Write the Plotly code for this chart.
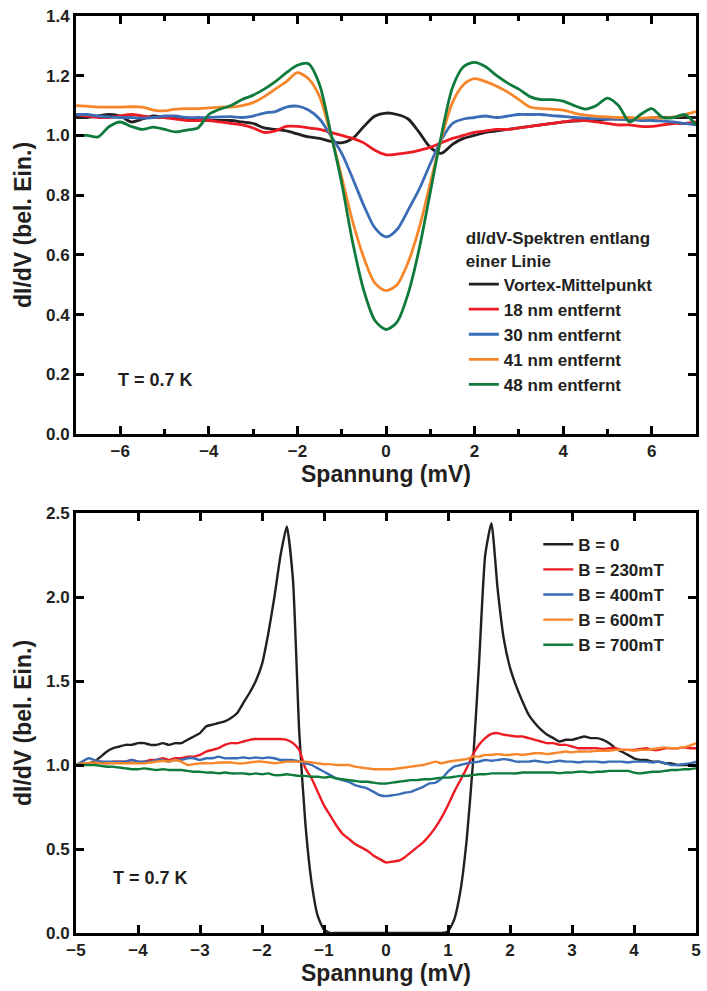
import plotly.graph_objects as go

# ---------------- top panel data ----------------
V_TOP = [-7, -6.75, -6.5, -6.25, -6, -5.75, -5.5, -5.25, -5, -4.75, -4.5, -4.25, -4, -3.75, -3.5, -3.25,
         -3, -2.75, -2.5, -2.25, -2, -1.75, -1.5, -1.25, -1, -0.75, -0.5, -0.25, 0, 0.25, 0.5, 0.75,
         1, 1.25, 1.5, 1.75, 2, 2.25, 2.5, 2.75, 3, 3.25, 3.5, 3.75, 4, 4.25, 4.5, 4.75, 5, 5.25,
         5.5, 5.75, 6, 6.25, 6.5, 6.75, 7]

vortex = [1.06, 1.06, 1.065, 1.07, 1.065, 1.045, 1.055, 1.065, 1.06, 1.058, 1.055, 1.052, 1.05, 1.05, 1.05, 1.045,
          1.04, 1.025, 1.02, 1.015, 1.005, 0.995, 0.99, 0.98, 0.975, 0.99, 1.03, 1.065, 1.075, 1.07, 1.055, 1.01,
          0.96, 0.94, 0.97, 0.99, 1.0, 1.01, 1.015, 1.02, 1.025, 1.03, 1.035, 1.04, 1.045, 1.048, 1.05, 1.052, 1.055, 1.055,
          1.055, 1.055, 1.058, 1.06, 1.06, 1.06, 1.06]

nm18 = [1.07, 1.065, 1.06, 1.06, 1.065, 1.07, 1.065, 1.06, 1.06, 1.055, 1.05, 1.05, 1.05, 1.045, 1.04, 1.035,
        1.025, 1.01, 1.015, 1.03, 1.03, 1.025, 1.02, 1.01, 1.0, 0.99, 0.975, 0.95, 0.935, 0.937, 0.942, 0.95,
        0.96, 0.975, 0.99, 1.0, 1.01, 1.015, 1.02, 1.02, 1.025, 1.03, 1.035, 1.04, 1.045, 1.05, 1.05, 1.045, 1.04, 1.035,
        1.035, 1.03, 1.03, 1.035, 1.04, 1.04, 1.045]

nm30 = [1.07, 1.07, 1.065, 1.062, 1.06, 1.06, 1.058, 1.06, 1.065, 1.065, 1.06, 1.06, 1.06, 1.062, 1.063, 1.06,
        1.065, 1.075, 1.08, 1.095, 1.098, 1.085, 1.055, 1.0, 0.94, 0.855, 0.765, 0.69, 0.66, 0.685, 0.75, 0.82,
        0.905, 0.985, 1.04, 1.055, 1.06, 1.065, 1.06, 1.065, 1.07, 1.07, 1.07, 1.066, 1.064, 1.06, 1.058, 1.056, 1.055, 1.055,
        1.053, 1.05, 1.05, 1.048, 1.045, 1.04, 1.035]

nm41 = [1.10, 1.098, 1.095, 1.095, 1.095, 1.096, 1.095, 1.085, 1.082, 1.088, 1.09, 1.09, 1.092, 1.095, 1.095, 1.10,
        1.11, 1.13, 1.155, 1.18, 1.21, 1.19, 1.13, 1.005, 0.86, 0.71, 0.59, 0.505, 0.48, 0.50, 0.575, 0.69,
        0.84, 0.99, 1.11, 1.17, 1.19, 1.18, 1.165, 1.145, 1.12, 1.095, 1.09, 1.088, 1.085, 1.075, 1.068, 1.064, 1.062, 1.06,
        1.06, 1.058, 1.06, 1.058, 1.062, 1.07, 1.08]

nm48 = [1.0, 1.0, 0.995, 1.03, 1.045, 1.03, 1.02, 1.028, 1.02, 1.012, 1.018, 1.025, 1.07, 1.088, 1.10, 1.12,
        1.135, 1.155, 1.18, 1.21, 1.235, 1.24, 1.17, 1.01, 0.84, 0.64, 0.48, 0.38, 0.35, 0.375, 0.47, 0.62,
        0.81, 1.0, 1.16, 1.23, 1.245, 1.23, 1.20, 1.175, 1.155, 1.13, 1.12, 1.12, 1.115, 1.10, 1.088, 1.10, 1.125, 1.10,
        1.045, 1.07, 1.09, 1.06, 1.06, 1.07, 1.035]

TOP_NAMES = ["Vortex-Mittelpunkt", "18 nm entfernt", "30 nm entfernt", "41 nm entfernt", "48 nm entfernt"]
TOP_SERIES = [vortex, nm18, nm30, nm41, nm48]

# ---------------- bottom panel data ----------------
V_BOT = [round(-5 + 0.1 * i, 1) for i in range(101)]

b0 = [1.0, 1.0, 1.01, 1.02, 1.05, 1.08, 1.10, 1.11, 1.12, 1.12,
      1.13, 1.13, 1.12, 1.12, 1.13, 1.12, 1.13, 1.13, 1.15, 1.17,
      1.19, 1.23, 1.24, 1.25, 1.26, 1.28, 1.31, 1.37, 1.43, 1.50,
      1.60, 1.78, 2.0, 2.25, 2.42, 2.10, 1.20, 0.65, 0.30, 0.10,
      0.02, 0.0, 0.0, 0.0, 0.0, 0.0, 0.0, 0.0, 0.0, 0.0,
      0.0, 0.0, 0.0, 0.0, 0.0, 0.0, 0.0, 0.0, 0.0, 0.0,
      0.01, 0.08, 0.25, 0.55, 1.0, 1.6, 2.25, 2.44, 2.05, 1.75,
      1.58, 1.47, 1.38, 1.30, 1.25, 1.21, 1.18, 1.16, 1.14, 1.15,
      1.15, 1.16, 1.17, 1.16, 1.16, 1.15, 1.13, 1.10, 1.08, 1.06,
      1.04, 1.03, 1.03, 1.02, 1.02, 1.01, 1.01, 1.0, 1.0, 1.0,
      1.0]

b230 = [1.0, 1.0, 1.01, 1.01, 1.02, 1.01, 1.02, 1.02, 1.02, 1.03,
        1.02, 1.02, 1.03, 1.03, 1.04, 1.03, 1.04, 1.04, 1.05, 1.05,
        1.06, 1.08, 1.09, 1.10, 1.12, 1.13, 1.13, 1.14, 1.15, 1.155,
        1.155, 1.155, 1.155, 1.155, 1.15, 1.13, 1.09, 0.98, 0.92, 0.84,
        0.76, 0.70, 0.64, 0.59, 0.56, 0.53, 0.51, 0.49, 0.46, 0.44,
        0.42, 0.425, 0.43, 0.45, 0.48, 0.51, 0.54, 0.58, 0.63, 0.69,
        0.76, 0.84, 0.91, 0.98, 1.06, 1.12, 1.16, 1.185, 1.19, 1.18,
        1.175, 1.17, 1.17, 1.16, 1.15, 1.14, 1.13, 1.13, 1.12, 1.12,
        1.11, 1.10, 1.10, 1.10, 1.10, 1.095, 1.10, 1.10, 1.09, 1.09,
        1.09, 1.095, 1.10, 1.09, 1.09, 1.10, 1.10, 1.10, 1.105, 1.10,
        1.10]

b400 = [1.0, 1.02, 1.04, 1.03, 1.02, 1.02, 1.02, 1.02, 1.02, 1.03,
        1.02, 1.02, 1.02, 1.03, 1.03, 1.02, 1.03, 1.03, 1.04, 1.04,
        1.03, 1.04, 1.04, 1.05, 1.04, 1.04, 1.04, 1.045, 1.04, 1.045,
        1.04, 1.045, 1.04, 1.03, 1.03, 1.03, 1.02, 1.01, 1.0, 0.98,
        0.96, 0.94, 0.92, 0.91, 0.90, 0.88, 0.87, 0.86, 0.84, 0.82,
        0.815, 0.82, 0.825, 0.835, 0.84, 0.855, 0.87, 0.89, 0.895, 0.92,
        0.96, 0.99, 1.0, 1.01, 1.015, 1.02, 1.03, 1.025, 1.03, 1.035,
        1.03, 1.02, 1.02, 1.02, 1.025, 1.02, 1.015, 1.02, 1.025, 1.02,
        1.02, 1.015, 1.02, 1.02, 1.02, 1.015, 1.02, 1.02, 1.02, 1.015,
        1.02, 1.02, 1.02, 1.015, 1.02, 1.01, 1.0, 1.0, 1.005, 1.01,
        1.02]

b600 = [1.0, 1.01, 1.01, 1.015, 1.01, 1.01, 1.01, 1.01, 1.01, 1.01,
        1.01, 1.01, 1.015, 1.02, 1.025, 1.02, 1.03, 1.02, 1.0, 1.005,
        1.01, 1.01, 1.01, 1.015, 1.015, 1.015, 1.01, 1.01, 1.015, 1.02,
        1.02, 1.015, 1.01, 1.015, 1.02, 1.02, 1.02, 1.02, 1.015, 1.01,
        1.005, 1.005, 1.0, 1.0, 1.0, 0.99, 0.985, 0.98, 0.975, 0.975,
        0.975, 0.975, 0.98, 0.985, 0.99, 0.995, 1.0, 1.01, 1.02, 1.01,
        1.02, 1.025, 1.03, 1.035, 1.05, 1.05, 1.06, 1.06, 1.065, 1.06,
        1.06, 1.065, 1.06, 1.065, 1.07, 1.07, 1.065, 1.07, 1.075, 1.08,
        1.075, 1.08, 1.08, 1.08, 1.085, 1.085, 1.085, 1.09, 1.09, 1.09,
        1.085, 1.09, 1.09, 1.095, 1.10, 1.105, 1.10, 1.10, 1.105, 1.115,
        1.13]

b700 = [1.0, 1.0, 1.0, 1.0, 0.995, 0.99, 0.99, 0.985, 0.98, 0.975,
        0.975, 0.98, 0.975, 0.97, 0.975, 0.97, 0.97, 0.97, 0.965, 0.96,
        0.96, 0.955, 0.955, 0.95, 0.955, 0.95, 0.95, 0.95, 0.945, 0.95,
        0.945, 0.95, 0.94, 0.94, 0.945, 0.94, 0.935, 0.935, 0.93, 0.93,
        0.925, 0.93, 0.92, 0.915, 0.91, 0.905, 0.90, 0.90, 0.895, 0.89,
        0.89, 0.895, 0.90, 0.905, 0.91, 0.91, 0.915, 0.915, 0.92, 0.925,
        0.925, 0.93, 0.935, 0.935, 0.94, 0.945, 0.945, 0.95, 0.95, 0.95,
        0.95, 0.95, 0.955, 0.955, 0.955, 0.955, 0.955, 0.955, 0.95, 0.955,
        0.955, 0.96, 0.96, 0.955, 0.96, 0.96, 0.965, 0.965, 0.965, 0.965,
        0.955, 0.95, 0.955, 0.96, 0.96, 0.965, 0.97, 0.97, 0.975, 0.975,
        0.98]

BOT_NAMES = ["B = 0", "B = 230mT", "B = 400mT", "B = 600mT", "B = 700mT"]
BOT_SERIES = [b0, b230, b400, b600, b700]

COLORS = ["#231f20", "#ed1c24", "#3a6db5", "#f7862b", "#0e7a3c"]
TXT = "#231f20"
FONT = "Liberation Sans, Arial, sans-serif"


def bold(s):
    return "<b>" + s + "</b>"


fig = go.Figure()
for name, ys, c in zip(TOP_NAMES, TOP_SERIES, COLORS):
    fig.add_trace(go.Scatter(x=V_TOP, y=ys, name=bold(name), mode="lines",
                             line=dict(color=c, width=2.8, shape="spline", smoothing=0.8),
                             xaxis="x", yaxis="y", legend="legend"))
for name, ys, c in zip(BOT_NAMES, BOT_SERIES, COLORS):
    fig.add_trace(go.Scatter(x=V_BOT, y=ys, name=bold(name), mode="lines",
                             line=dict(color=c, width=2.4, shape="spline", smoothing=0.5),
                             xaxis="x2", yaxis="y2", legend="legend2"))

tickfont = dict(family=FONT, size=17, color=TXT, weight="bold")
title_font = dict(family=FONT, size=23, color=TXT)
axis_common = dict(showline=True, linewidth=3, linecolor="black", mirror="allticks",
                   ticks="inside", ticklen=8, tickwidth=2.5, tickcolor="black",
                   showgrid=False, zeroline=False, tickfont=tickfont)
minor_common = dict(ticks="inside", ticklen=5, tickwidth=2.5, tickcolor="black", showgrid=False)
legend_font = dict(family=FONT, size=17, color=TXT)

fig.update_layout(
    width=707, height=991,
    margin=dict(l=76, r=6, t=16, b=58),
    paper_bgcolor="white", plot_bgcolor="white",
    xaxis=dict(domain=[0, 1], range=[-7, 7], anchor="y",
               minor=dict(dtick=1, **minor_common),
               title=dict(text=bold("Spannung (mV)"), font=title_font, standoff=6), **axis_common),
    yaxis=dict(domain=[0.5442, 1], range=[0, 1.4], anchor="x", dtick=0.2, tickformat=".1f",
               title=dict(text=bold("dI/dV (bel. Ein.)"), font=title_font, standoff=8), **axis_common),
    xaxis2=dict(domain=[0, 1], range=[-5, 5], anchor="y2", dtick=1,
                title=dict(text=bold("Spannung (mV)"), font=title_font, standoff=6), **axis_common),
    yaxis2=dict(domain=[0, 0.458], range=[0, 2.5], anchor="x2", dtick=0.5, tickformat=".1f",
                title=dict(text=bold("dI/dV (bel. Ein.)"), font=title_font, standoff=8), **axis_common),
    legend=dict(x=0.6256, y=0.775, xanchor="left", yanchor="top", bgcolor="white",
                font=legend_font,
                title=dict(text=bold("dI/dV-Spektren entlang") + "<br>" + bold("einer Linie"),
                           font=legend_font)),
    legend2=dict(x=0.7456, y=0.4430, xanchor="left", yanchor="top", bgcolor="white",
                 font=legend_font),
    annotations=[
        dict(text=bold("T = 0.7 K"), x=-6.1, y=0.18, xref="x", yref="y", xanchor="left", yanchor="middle",
             showarrow=False, font=dict(family=FONT, size=18, color=TXT)),
        dict(text=bold("T = 0.7 K"), x=-4.44, y=0.33, xref="x2", yref="y2", xanchor="left", yanchor="middle",
             showarrow=False, font=dict(family=FONT, size=18, color=TXT)),
    ],
)

fig.write_html("out.html")
